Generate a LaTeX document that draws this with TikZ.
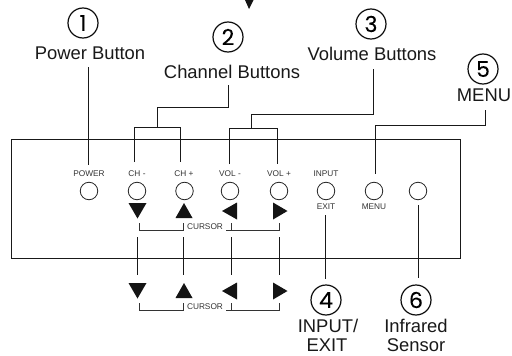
\documentclass[tikz,border=0pt]{standalone}
\usepackage{fontspec}
\setmainfont{Liberation Sans}
\newfontfamily\numfont[FakeBold=0.12]{Poppins}
\newfontfamily\bigfont{Liberation Sans}
\tikzset{
 lead/.style={draw=black!90,line width=1.05pt},
 panel/.style={draw=black!90,line width=1.05pt},
 btn/.style={circle,draw=black!85,line width=0.8pt,minimum size=17.5pt,inner sep=0pt},
 small/.style={font=\fontsize{8.3}{9}\selectfont,text=black!80,inner sep=0pt},
 big/.style={font=\bigfont\fontsize{18.4}{18}\selectfont,text=black!90,inner sep=0pt},
 num/.style={circle,draw=black!95,line width=1.2pt,minimum size=30pt,inner sep=0pt,font=\numfont\fontsize{22}{22}\selectfont,text=black},
 tri/.style={fill=black!92},
 brk/.style={draw=black!80,line width=0.85pt},
}
\newcommand{\dnT}[2]{\fill[tri] (#1-9,#2) -- (#1+9,#2) -- (#1,#2+15.5) -- cycle;}
\newcommand{\upT}[2]{\fill[tri] (#1-8.5,#2+15) -- (#1+8.5,#2+15) -- (#1,#2) -- cycle;}
\newcommand{\lfT}[2]{\fill[tri] (#1+7,#2-8.5) -- (#1+7,#2+8.5) -- (#1-8,#2) -- cycle;}
\newcommand{\rtT}[2]{\fill[tri] (#1-7,#2-8.5) -- (#1-7,#2+8.5) -- (#1+7.5,#2) -- cycle;}
\newcommand{\cursorbr}[1]{%
 \draw[brk] (139.5,#1) -- (139.5,#1+7.5) -- (183.5,#1+7.5) (183.5,#1) -- (183.5,#1+7.5);
 \draw[brk] (226,#1+7.5) -- (279.5,#1+7.5) -- (279.5,#1) (231.5,#1) -- (231.5,#1+7.5);
}
\begin{document}
\begin{tikzpicture}[x=1pt,y=-1pt]
\useasboundingbox (0,0) rectangle (512,356);
\fill[white] (0,0) rectangle (512,356);
\fill[tri] (245,0) -- (253.5,0) -- (249,9) -- cycle;
% panel
\draw[panel] (11.5,139.5) rectangle (460.5,258.5);
% buttons
\foreach \n/\x in {pw/89,chm/137,chp/184.5,vm/230,vp/279,inp/326,men/374,ir/418}
  \node[btn] (\n) at (\x,191) {};
% small labels
\node[small] (lpw) at (89,174) {POWER};
\node[small] (lchm) at (137,174) {CH -};
\node[small] (lchp) at (184,174) {CH +};
\node[small] (lvm) at (230,174) {VOL -};
\node[small] (lvp) at (279,174) {VOL +};
\node[small] (linp) at (326,174) {INPUT};
\node[small] (lex) at (326,207) {EXIT};
\node[small] (lmen) at (374,207) {MENU};
\node[small] (cur1) at (205,227) {CURSOR};
\node[small] (cur2) at (205,307) {CURSOR};
% numbers
\node[num] (n1) at (83,23) {1};
\node[num] (n2) at (228,37) {2};
\node[num] (n3) at (371,24) {3};
\node[num] (n5) at (483,69) {5};
\node[num] (n4) at (326,300) {4};
\node[num] (n6) at (416,300) {6};
% big labels
\node[big] (t1) at (90,53.5) {Power Button};
\node[big] (t2) at (232,72) {Channel Buttons};
\node[big] (t3) at (372,54) {Volume Buttons};
\node[big] (t5) at (484,95) {MENU};
\node[big] (t4a) at (328,326) {INPUT/};
\node[big] (t4b) at (327,345) {EXIT};
\node[big] (t6a) at (416,326) {Infrared};
\node[big] (t6b) at (416,345) {Sensor};
% triangles
\dnT{137.5}{203} \upT{184}{203} \lfT{230}{211} \rtT{280}{211}
\dnT{137.5}{283} \upT{184}{283} \lfT{230}{291} \rtT{280}{291}
\cursorbr{223}
\cursorbr{303}
% connectors
\coordinate (a1) at (88.5,67); \coordinate (b1) at (88.5,165);
\draw[lead] (a1) -- (b1);
\coordinate (c0) at (228.5,85); \coordinate (c1) at (228.5,107.5); \coordinate (c2) at (157.5,107.5); \coordinate (c3) at (157.5,127.5);
\coordinate (c4) at (134.5,162); \coordinate (c5) at (134.5,127.5); \coordinate (c6) at (180.5,127.5); \coordinate (c7) at (180.5,162);
\draw[lead] (c0) -- (c1) -- (c2) -- (c3);
\draw[lead] (c4) -- (c5) -- (c6) -- (c7);
\coordinate (v0) at (373.5,69); \coordinate (v1) at (373.5,114.5); \coordinate (v2) at (251.5,114.5); \coordinate (v3) at (251.5,128.5);
\coordinate (v4) at (229.5,164); \coordinate (v5) at (229.5,128.5); \coordinate (v6) at (277.5,128.5); \coordinate (v7) at (277.5,164);
\draw[lead] (v0) -- (v1) -- (v2) -- (v3);
\draw[lead] (v4) -- (v5) -- (v6) -- (v7);
\coordinate (m0) at (485.5,110); \coordinate (m1) at (485.5,125.5); \coordinate (m2) at (375.5,125.5); \coordinate (m3) at (375.5,174);
\draw[lead] (m0) -- (m1) -- (m2) -- (m3);
\foreach \k/\x in {p/137.5,q/183.5,r/231.5,s/279.5}{
  \coordinate (\k0) at (\x,237); \coordinate (\k1) at (\x,275);
  \draw[lead] (\k0) -- (\k1);
}
\coordinate (i0) at (325.5,215); \coordinate (i1) at (325.5,279);
\draw[lead] (i0) -- (i1);
\coordinate (f0) at (418.5,205); \coordinate (f1) at (418.5,278);
\draw[lead] (f0) -- (f1);
\end{tikzpicture}
\end{document}
